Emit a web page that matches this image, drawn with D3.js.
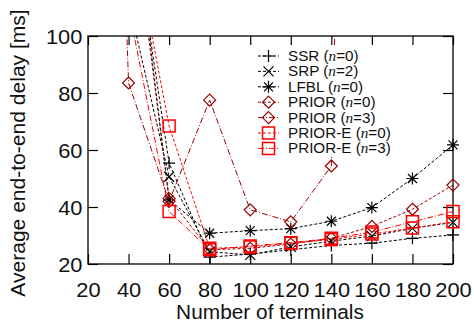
<!DOCTYPE html>
<html><head><meta charset="utf-8">
<script src="https://cdn.jsdelivr.net/npm/d3@7/dist/d3.min.js"></script>
<style>body{margin:0;background:#fff} svg{display:block}</style>
</head><body>
<svg id="c" width="474" height="324"></svg>
<script>
// ---- data ----
const xValues = [20, 40, 60, 80, 100, 120, 140, 160, 180, 200];
const xTicks = [20, 40, 60, 80, 100, 120, 140, 160, 180, 200];
const yTicks = [20, 40, 60, 80, 100];
const ssr    = [null, 150, 55.4, 22.4, 23.5, 25.0, 26.5, 27.3, 29.0, 30.2];
const srp    = [null, 112, 50.6, 24.3, 23.2, 26.0, 28.0, 29.8, 32.5, 34.6];
const lfbl   = [null, 160, 42.5, 30.8, 31.7, 32.4, 35.0, 39.8, 50.0, 61.8];
const prior0 = [null, 155, 43.0, 25.0, 25.5, 27.0, 29.0, 33.2, 39.2, 47.7];
const prior3 = [500, 83.5, 42.0, 77.5, 39.0, 34.8, 54.4, 600, null, null];
const priorE0 = [null, 143, 68.4, 25.5, 26.0, 27.3, 28.6, 30.5, 32.6, 34.8];
const priorE3 = [null, 110, 38.4, 25.0, 26.3, 27.5, 29.0, 31.2, 34.8, 38.4];
const seriesNames = ["SSR", "SRP", "LFBL", "PRIOR", "PRIOR", "PRIOR-E", "PRIOR-E"];
const seriesN = ["0", "2", "0", "0", "3", "0", "3"];

const series = [
  {vals: ssr,    color: "#000000", dash: "3,2",     marker: "plus"},
  {vals: srp,    color: "#000000", dash: "3,2",     marker: "cross"},
  {vals: lfbl,   color: "#000000", dash: "3,2",     marker: "star"},
  {vals: prior0, color: "#990000", dash: "3,2",     marker: "diamond"},
  {vals: prior3, color: "#990000", dash: "6,2,1,2", marker: "diamond"},
  {vals: priorE0, color: "#ff0000", dash: "3,2",    marker: "square"},
  {vals: priorE3, color: "#ff0000", dash: "6,2,1,2", marker: "square"}
].map((s, i) => Object.assign(s, {name: seriesNames[i], n: seriesN[i]}));

// ---- layout ----
const L = 88, R = 453, T = 36, B = 264;
const svg = d3.select("#c");
const x = d3.scaleLinear().domain([20, 200]).range([L, R]);
const y = d3.scaleLinear().domain([20, 100]).range([B, T]);
const FONT = "'Liberation Sans', Arial, Helvetica, sans-serif";

svg.append("defs").append("clipPath").attr("id", "clip")
  .append("rect").attr("x", L).attr("y", T).attr("width", R - L).attr("height", B - T);

const markerPath = {
  plus: "M-6,0H6M0,-6V6",
  cross: "M-5,-5L5,5M-5,5L5,-5",
  star: "M-6,0H6M0,-6V6M-4.5,-4.5L4.5,4.5M-4.5,4.5L4.5,-4.5",
  diamond: "M0,-6L6,0L0,6L-6,0Z",
  square: "M-6,-6H6V6H-6Z"
};

// axes (ticks inward on all sides)
const gx = svg.append("g").attr("transform", `translate(0,${B})`)
  .call(d3.axisBottom(x).tickValues(xTicks).tickSizeInner(-10).tickSizeOuter(0).tickPadding(19));
const gy = svg.append("g").attr("transform", `translate(${L},0)`)
  .call(d3.axisLeft(y).tickValues(yTicks).tickSizeInner(-10).tickSizeOuter(0).tickPadding(5));
const gxt = svg.append("g").attr("transform", `translate(0,${T})`)
  .call(d3.axisTop(x).tickValues(xTicks).tickSizeInner(-9).tickSizeOuter(0).tickFormat(""));
const gyr = svg.append("g").attr("transform", `translate(${R},0)`)
  .call(d3.axisRight(y).tickValues(yTicks).tickSizeInner(-10).tickSizeOuter(0).tickFormat(""));
[gx, gy, gxt, gyr].forEach(g => {
  g.select(".domain").remove();
  g.selectAll("line").attr("stroke", "#000").attr("stroke-width", 1.2);
  g.selectAll("text").attr("font-family", FONT).attr("font-size", 19.5).attr("fill", "#111");
});
gx.selectAll("text").attr("transform", "scale(1.12,1)");
gy.selectAll("text").attr("dy", "0.36em").attr("transform", "scale(1.12,1)");

// border
svg.append("rect").attr("x", L).attr("y", T).attr("width", R - L).attr("height", B - T)
  .attr("fill", "none").attr("stroke", "#000").attr("stroke-width", 1.3);

// series lines
const line = d3.line()
  .defined(d => d[1] != null)
  .x(d => x(d[0])).y(d => y(d[1]));
const plot = svg.append("g").attr("clip-path", "url(#clip)");
series.forEach(s => {
  const pts = xValues.map((xv, i) => [xv, s.vals[i]]);
  plot.append("path").datum(pts).attr("d", line)
    .attr("fill", "none").attr("stroke", s.color).attr("stroke-width", 1)
    .attr("stroke-dasharray", s.dash);
});
series.forEach(s => {
  const pts = xValues.map((xv, i) => [xv, s.vals[i]])
    .filter(d => d[1] != null && d[1] >= 20 && d[1] <= 100);
  svg.append("g").selectAll("path").data(pts).join("path")
    .attr("transform", d => `translate(${x(d[0])},${y(d[1])})`)
    .attr("d", markerPath[s.marker])
    .attr("fill", "none").attr("stroke", s.color)
    .attr("stroke-width", s.marker === "square" ? 1.5 : 1.2);
});

// legend (opaque)
const lg = svg.append("g");
const lx0 = 258, lx1 = 279, ltx = 288, ly0 = 56, lstep = 15.4;
lg.append("rect").attr("x", 255).attr("y", 47).attr("width", 132).attr("height", 108).attr("fill", "#fff");
series.forEach((s, i) => {
  const yy = ly0 + i * lstep;
  lg.append("line").attr("x1", lx0).attr("x2", lx1).attr("y1", yy).attr("y2", yy)
    .attr("stroke", s.color).attr("stroke-width", 1).attr("stroke-dasharray", s.dash);
  lg.append("path").attr("transform", `translate(${(lx0 + lx1) / 2},${yy})`)
    .attr("d", markerPath[s.marker]).attr("fill", "none").attr("stroke", s.color)
    .attr("stroke-width", s.marker === "square" ? 1.5 : 1.2);
  const t = lg.append("text").attr("transform", `translate(${ltx},${yy + 5}) scale(1.05,1)`)
    .attr("font-family", FONT).attr("font-size", 14.5).attr("fill", "#111");
  t.append("tspan").text(s.name + " (");
  t.append("tspan").attr("font-family", "'Liberation Serif', 'Times New Roman', serif")
    .attr("font-style", "italic").text("n");
  t.append("tspan").text("=" + s.n + ")");
});

// axis titles
svg.append("text").attr("transform", `translate(270,319) scale(1.07,1)`)
  .attr("text-anchor", "middle").attr("font-family", FONT).attr("font-size", 19.5)
  .attr("fill", "#111").text("Number of terminals");
svg.append("text").attr("transform", `translate(25,153) rotate(-90) scale(1.08,1)`)
  .attr("text-anchor", "middle").attr("font-family", FONT).attr("font-size", 19.5)
  .attr("fill", "#111").text("Average end-to-end delay [ms]");
</script>
</body></html>
